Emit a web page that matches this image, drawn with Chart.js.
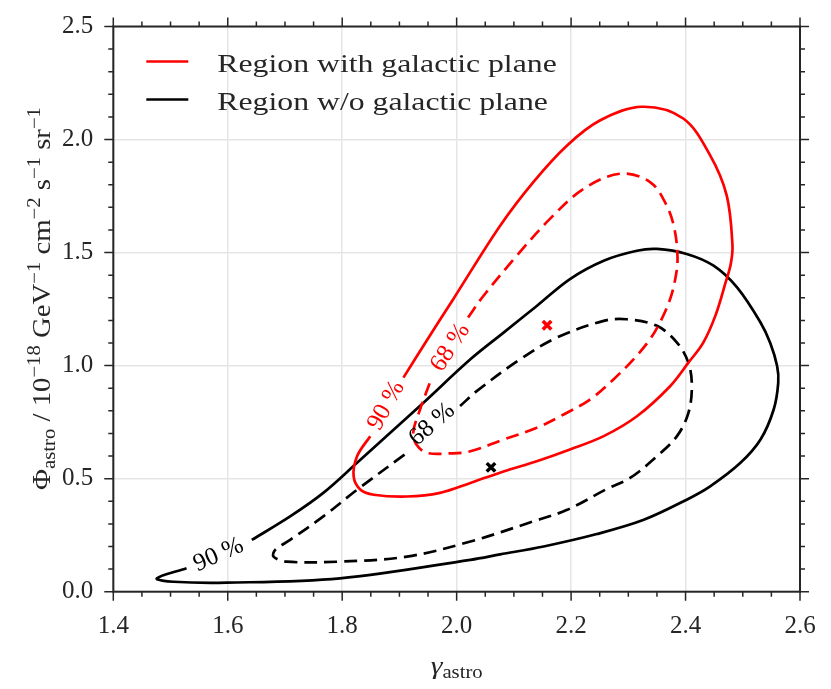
<!DOCTYPE html>
<html><head><meta charset="utf-8">
<script src="https://cdn.jsdelivr.net/npm/chart.js@4.4.0/dist/chart.umd.min.js"></script>
<style>html,body{margin:0;padding:0;background:#fff}#wrap{width:831px;height:689px;position:relative}</style>
</head><body><div id="wrap"><canvas id="c"></canvas></div>
<script>
// ---------------- data ----------------
const seriesLabels = ['Region with galactic plane', 'Region w/o galactic plane'];
const seriesColors = ['#ff0000', '#000000'];

// 90 % contour, region with galactic plane
const gp90X = [1.907,1.950,1.994,2.076,2.134,2.193,2.251,2.324,2.396,2.443,2.472,2.482,2.479,2.470,2.452,2.431,2.405,2.373,2.315,2.257,2.198,2.140,2.082,2.024,1.971,1.913,1.855,1.832,1.820,1.826,1.849];
const gp90Y = [0.947,1.120,1.294,1.619,1.812,1.974,2.085,2.145,2.093,1.930,1.752,1.531,1.450,1.368,1.220,1.102,1.013,0.909,0.776,0.688,0.629,0.577,0.532,0.481,0.437,0.421,0.429,0.451,0.510,0.599,0.688];
// 68 % contour, region with galactic plane
const gp68X = [2.020,2.047,2.105,2.163,2.222,2.286,2.338,2.367,2.381,2.386,2.382,2.373,2.358,2.338,2.309,2.274,2.233,2.187,2.140,2.082,2.024,1.990,1.948,1.930,1.924,1.936,1.954];
const gp68Y = [1.213,1.309,1.486,1.649,1.782,1.849,1.812,1.708,1.600,1.471,1.383,1.294,1.205,1.117,1.028,0.939,0.850,0.784,0.725,0.673,0.621,0.612,0.614,0.650,0.703,0.806,0.930];
// 90 % contour, region without galactic plane
const ng90X = [1.642,1.709,1.767,1.826,1.884,1.942,2.024,2.082,2.140,2.198,2.257,2.315,2.350,2.402,2.449,2.490,2.531,2.548,2.560,2.562,2.554,2.531,2.496,2.443,2.402,2.327,2.245,2.152,2.076,2.024,1.796,1.598,1.505,1.476,1.528];
const ng90Y = [0.229,0.333,0.437,0.570,0.703,0.836,1.028,1.146,1.264,1.383,1.464,1.508,1.516,1.494,1.442,1.346,1.191,1.100,0.998,0.925,0.806,0.673,0.570,0.466,0.407,0.318,0.255,0.200,0.165,0.141,0.059,0.040,0.044,0.059,0.104];
// 68 % contour, region without galactic plane
const ng68X = [2.006,2.035,2.111,2.175,2.257,2.297,2.350,2.385,2.405,2.411,2.405,2.385,2.350,2.303,2.263,2.193,2.134,2.024,1.913,1.796,1.703,1.680,1.683,1.709,1.767,1.826,1.913];
const ng68Y = [0.821,0.887,1.028,1.124,1.198,1.205,1.176,1.102,1.013,0.909,0.791,0.688,0.599,0.503,0.455,0.362,0.311,0.222,0.155,0.133,0.133,0.155,0.185,0.229,0.333,0.451,0.614];

// best fit points
const bestX = [2.158, 2.060];
const bestY = [1.179, 0.550];

// contour level labels
const levelText = ['90 %', '68 %', '90 %', '68 %'];
const levelX = [1.877, 1.989, 1.584, 1.957];
const levelY = [0.823, 1.080, 0.163, 0.740];
const levelAngle = [-61, -57, -24, -41];
const levelColor = ['#ff0000', '#ff0000', '#000000', '#000000'];

// axes
const xMin = 1.4, xMax = 2.6, xStep = 0.2, xMinor = 0.05;
const yMin = 0.0, yMax = 2.5, yStep = 0.5, yMinor = 0.1;

// ---------------- helpers ----------------
const zip = (xs, ys) => xs.map((x, i) => ({x: x, y: ys[i]}));
const SERIF = '"Liberation Serif", "DejaVu Serif", serif';
const INK = '#262626';

function font(size, style) { return (style ? style + ' ' : '') + size + 'px ' + SERIF; }

function richWidth(ctx, parts, sx) {
  let w = 0;
  for (const p of parts) { ctx.font = font(p.s, p.st); w += ctx.measureText(p.t).width * sx; }
  return w;
}
function drawRich(ctx, parts, x, y, sx) {
  const w = richWidth(ctx, parts, sx);
  let cx = x - w / 2;
  ctx.textAlign = 'left';
  ctx.textBaseline = 'alphabetic';
  for (const p of parts) {
    ctx.font = font(p.s, p.st);
    const pw = ctx.measureText(p.t).width * sx;
    ctx.save();
    ctx.translate(cx, y + (p.dy || 0));
    ctx.scale(sx, 1);
    ctx.fillText(p.t, 0, 0);
    ctx.restore();
    cx += pw;
  }
}

const decorPlugin = {
  id: 'decor',
  afterDraw(chart) {
    const ctx = chart.ctx;
    const a = chart.chartArea;
    const xs = chart.scales.x, ys = chart.scales.y;
    ctx.save();

    // contour level labels
    for (let i = 0; i < levelText.length; i++) {
      const px = xs.getPixelForValue(levelX[i]);
      const py = ys.getPixelForValue(levelY[i]);
      ctx.save();
      ctx.translate(px, py);
      ctx.rotate(levelAngle[i] * Math.PI / 180);
      ctx.fillStyle = levelColor[i];
      ctx.font = font(25);
      ctx.textAlign = 'center';
      ctx.textBaseline = 'middle';
      ctx.fillText(levelText[i], 0, 0);
      ctx.restore();
    }

    // frame
    ctx.strokeStyle = INK;
    ctx.lineWidth = 2;
    ctx.strokeRect(a.left, a.top, a.right - a.left, a.bottom - a.top);

    // ticks on all four sides, outward
    ctx.lineWidth = 1.5;
    const maj = 9, mnr = 5;
    ctx.beginPath();
    const nx = Math.round((xMax - xMin) / xMinor);
    for (let k = 0; k <= nx; k++) {
      const v = xMin + k * xMinor;
      const major = (k % Math.round(xStep / xMinor)) === 0;
      const L = major ? maj : mnr;
      const px = xs.getPixelForValue(v);
      ctx.moveTo(px, a.bottom); ctx.lineTo(px, a.bottom + L);
      ctx.moveTo(px, a.top); ctx.lineTo(px, a.top - L);
    }
    const ny = Math.round((yMax - yMin) / yMinor);
    for (let k = 0; k <= ny; k++) {
      const v = yMin + k * yMinor;
      const major = (k % Math.round(yStep / yMinor)) === 0;
      const L = major ? maj : mnr;
      const py = ys.getPixelForValue(v);
      ctx.moveTo(a.left, py); ctx.lineTo(a.left - L, py);
      ctx.moveTo(a.right, py); ctx.lineTo(a.right + L, py);
    }
    ctx.stroke();

    // legend
    ctx.lineWidth = 2.7;
    for (let i = 0; i < seriesLabels.length; i++) {
      const base = a.top + 45 + i * 38;
      ctx.strokeStyle = seriesColors[i];
      ctx.beginPath();
      ctx.moveTo(a.left + 33, base - 10);
      ctx.lineTo(a.left + 75, base - 10);
      ctx.stroke();
      ctx.fillStyle = INK;
      ctx.save();
      ctx.translate(a.left + 104, base);
      ctx.scale(1.27, 1);
      ctx.font = font(25);
      ctx.textAlign = 'left';
      ctx.textBaseline = 'alphabetic';
      ctx.fillText(seriesLabels[i], 0, 0);
      ctx.restore();
    }

    // axis titles
    ctx.fillStyle = INK;
    drawRich(ctx, [
      {t: 'γ', s: 26, st: 'italic', dy: 0},
      {t: 'astro', s: 18, dy: 4}
    ], (a.left + a.right) / 2, 674, 1.15);

    ctx.save();
    ctx.translate(50, 298.5);
    ctx.rotate(-Math.PI / 2);
    drawRich(ctx, [
      {t: 'Φ', s: 25, dy: 0},
      {t: 'astro', s: 18, dy: 5},
      {t: ' / 10', s: 25, dy: 0},
      {t: '−18', s: 18, dy: -10},
      {t: ' GeV', s: 25, dy: 0},
      {t: '−1', s: 18, dy: -10},
      {t: ' cm', s: 25, dy: 0},
      {t: '−2', s: 18, dy: -10},
      {t: ' s', s: 25, dy: 0},
      {t: '−1', s: 18, dy: -10},
      {t: ' sr', s: 25, dy: 0},
      {t: '−1', s: 18, dy: -10}
    ], 0, 0, 1.15);
    ctx.restore();

    ctx.restore();
  }
};

function lineSet(label, xs, ys, color, dash) {
  return {
    label: label, data: zip(xs, ys), showLine: true, borderColor: color,
    backgroundColor: color, borderWidth: 2.7, borderDash: dash, pointRadius: 0,
    pointHoverRadius: 0, tension: 0.35, fill: false
  };
}

new Chart(document.getElementById('c'), {
  type: 'scatter',
  data: {
    datasets: [
      lineSet(seriesLabels[0] + ' 90%', gp90X, gp90Y, seriesColors[0], []),
      lineSet(seriesLabels[0] + ' 68%', gp68X, gp68Y, seriesColors[0], [13, 7]),
      lineSet(seriesLabels[1] + ' 90%', ng90X, ng90Y, seriesColors[1], []),
      lineSet(seriesLabels[1] + ' 68%', ng68X, ng68Y, seriesColors[1], [13, 7]),
      {label: 'best fit', data: zip(bestX, bestY), showLine: false,
       pointStyle: 'crossRot', pointRadius: 6, pointBorderWidth: 3.5,
       borderColor: seriesColors, backgroundColor: seriesColors,
       pointBorderColor: seriesColors}
    ]
  },
  options: {
    responsive: true, maintainAspectRatio: false, animation: false,
    layout: {padding: {top: 26.5, right: 31, left: 0, bottom: 0}},
    plugins: {legend: {display: false}, tooltip: {enabled: false}},
    scales: {
      x: {
        type: 'linear', min: xMin, max: xMax,
        ticks: {stepSize: xStep, padding: 20, color: INK, font: {family: SERIF, size: 25},
                callback: v => v.toFixed(1)},
        grid: {color: '#e5e5e5', lineWidth: 1.5, drawTicks: false},
        border: {display: false},
        afterFit: s => { s.height = 97.3; s.paddingLeft = 0; s.paddingRight = 0; }
      },
      y: {
        type: 'linear', min: yMin, max: yMax,
        ticks: {stepSize: yStep, padding: 20, color: INK, font: {family: SERIF, size: 25},
                callback: v => v.toFixed(1)},
        grid: {color: '#e5e5e5', lineWidth: 1.5, drawTicks: false},
        border: {display: false},
        afterFit: s => { s.width = 113.3; s.paddingTop = 0; s.paddingBottom = 0; }
      }
    }
  },
  plugins: [decorPlugin]
});
</script></body></html>
